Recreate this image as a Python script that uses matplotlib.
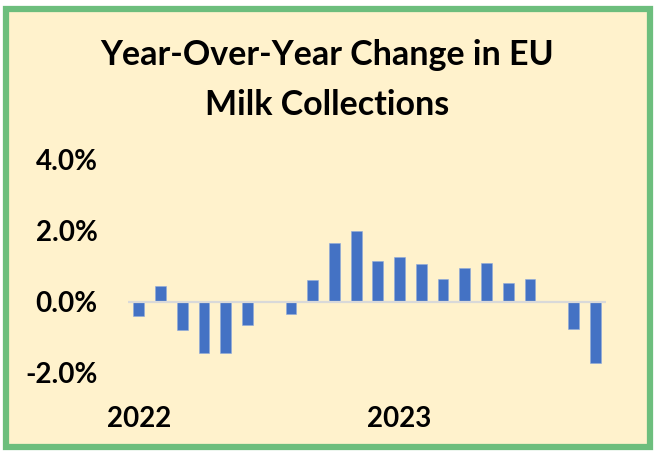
#!/usr/bin/env python3
"""
EU milk collections: year-over-year change (monthly bars, Jan 2022 - Oct 2023).
Saves out.png.
"""

import matplotlib
matplotlib.use("Agg")
import matplotlib.pyplot as plt
import matplotlib.ticker as ticker
from matplotlib.patches import Rectangle

# =========================================================
# data
# =========================================================
MONTHS = [
    "2022-01", "2022-02", "2022-03", "2022-04", "2022-05", "2022-06",
    "2022-07", "2022-08", "2022-09", "2022-10", "2022-11", "2022-12",
    "2023-01", "2023-02", "2023-03", "2023-04", "2023-05", "2023-06",
    "2023-07", "2023-08", "2023-09", "2023-10",
]
YOY_CHANGE = [
    -0.40, 0.43, -0.80, -1.45, -1.45, -0.66,
    -0.02, -0.35, 0.61, 1.65, 1.99, 1.16,
    1.27, 1.05, 0.65, 0.94, 1.08, 0.54,
    0.63, -0.02, -0.78, -1.74,
]
YEAR_TICKS = ["2022-01", "2023-01"]
YEAR_LABELS = ["2022", "2023"]
Y_TICKS = [-2.0, 0.0, 2.0, 4.0]

TITLE = "Year-Over-Year Change in EU\nMilk Collections"

# =========================================================
# style
# =========================================================
BG_COLOR = "#FFF2CC"
BORDER_COLOR = "#6DBE7D"
BAR_COLOR = "#4472C4"
ZERO_COLOR = "#D9D9D9"
FONT = ["Lato", "DejaVu Sans"]


def main():
    fig = plt.figure(figsize=(6.54, 4.51), dpi=100)
    fig.patch.set_facecolor("white")

    # --- cream panel with green frame (behind the axes) ---
    frame = Rectangle((6 / 654, 4 / 451), 644 / 654, 438 / 451,
                      transform=fig.transFigure, facecolor=BG_COLOR,
                      edgecolor=BORDER_COLOR, linewidth=4.5, zorder=-5)
    fig.patches.append(frame)

    ax = fig.add_axes([128 / 654, 1 - 372.5 / 451, 478 / 654, 212.5 / 451])
    ax.set_facecolor("none")
    ax.set_zorder(2)

    x = list(range(len(MONTHS)))
    ax.bar(x, YOY_CHANGE, width=0.5, color=BAR_COLOR,
           edgecolor="#8FAADC", linewidth=0.4, zorder=2)
    ax.axhline(0, color=ZERO_COLOR, linewidth=1.6, zorder=3)

    ax.set_xlim(-0.5, len(MONTHS) - 0.5)
    ax.set_ylim(-2.0, 4.0)

    # --- axes ---
    ax.set_yticks(Y_TICKS)
    ax.yaxis.set_major_formatter(ticker.FormatStrFormatter("%.1f%%"))
    ax.set_xticks([MONTHS.index(m) for m in YEAR_TICKS])
    ax.set_xticklabels(YEAR_LABELS)
    ax.tick_params(axis="y", length=0, pad=22)
    ax.tick_params(axis="x", length=0, pad=24)
    for lab in ax.get_yticklabels() + ax.get_xticklabels():
        lab.set_fontfamily(FONT)
        lab.set_fontweight("bold")
        lab.set_fontsize(20)
    for side in ax.spines.values():
        side.set_visible(False)

    fig.text(0.5, 1 - 80 / 451, TITLE, ha="center", va="center",
             fontsize=24.5, fontweight="bold", family=FONT,
             linespacing=1.7)

    fig.savefig("out.png", dpi=100, facecolor=fig.get_facecolor())


if __name__ == "__main__":
    main()
